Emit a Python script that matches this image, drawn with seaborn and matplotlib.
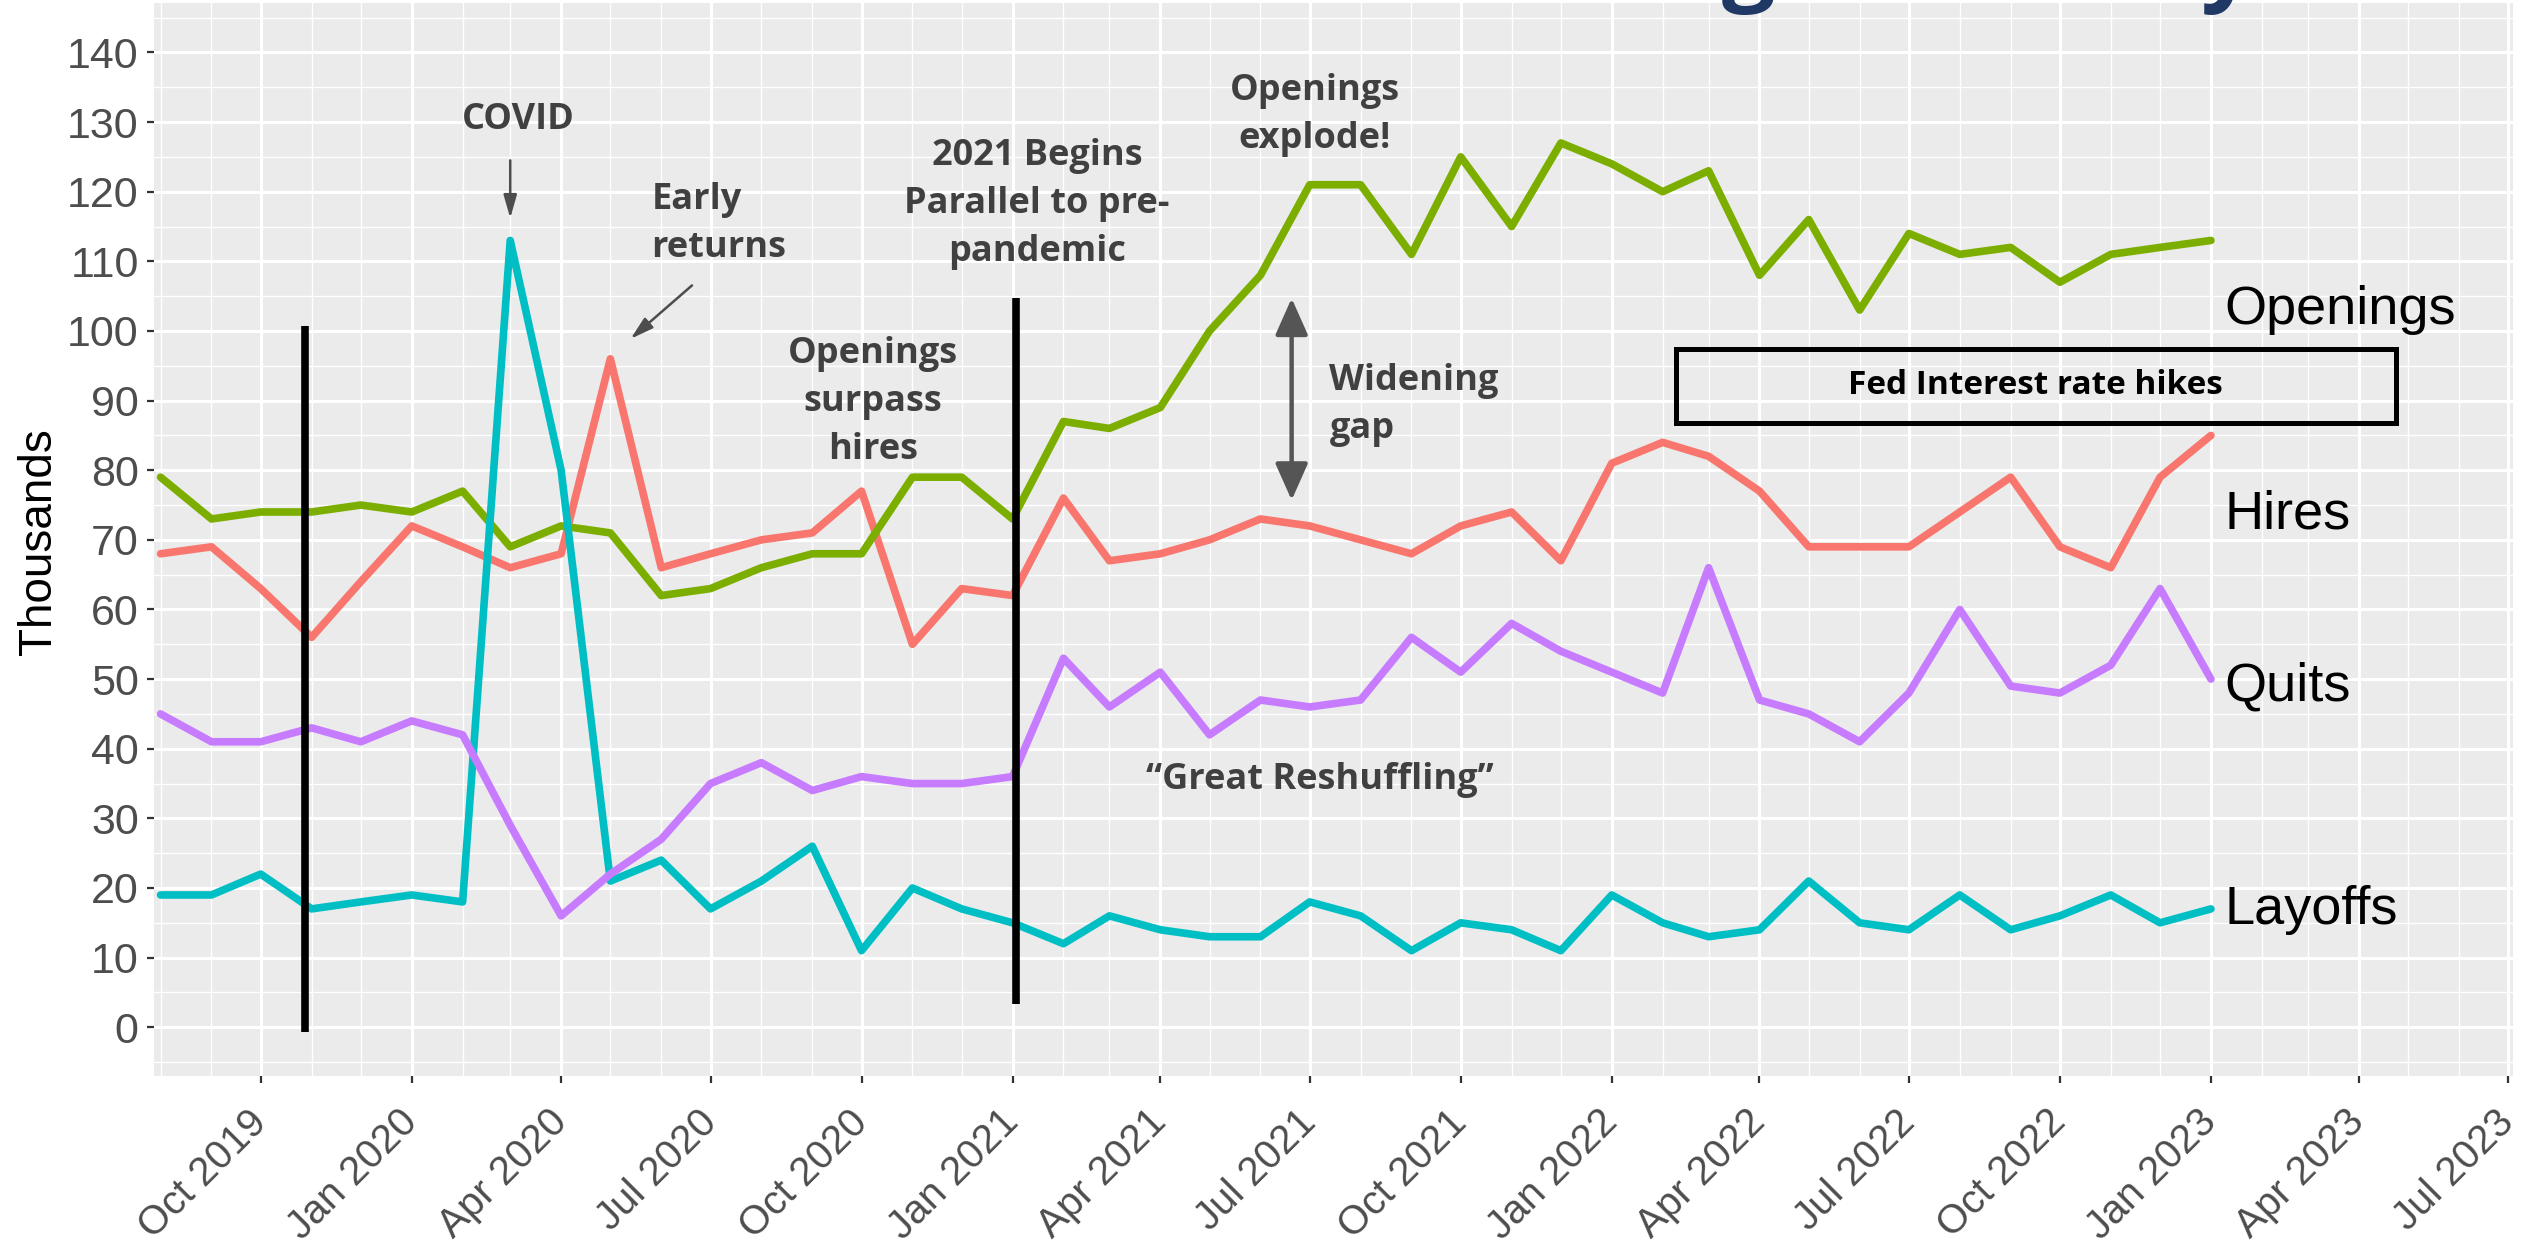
import matplotlib
matplotlib.use("Agg")
import matplotlib.pyplot as plt
import matplotlib.dates as mdates
from matplotlib.ticker import MultipleLocator
from matplotlib.patches import Rectangle
import seaborn as sns, pandas as pd, numpy as np

# monthly JOLTS-style series, thousands
months = pd.date_range("2019-08-01", periods=42, freq="MS")
hires = [68, 69, 63, 56, 64,
         72, 69, 66, 68, 96, 66, 68, 70, 71, 77, 55, 63,
         62, 76, 67, 68, 70, 73, 72, 70, 68, 72, 74, 67,
         81, 84, 82, 77, 69, 69, 69, 74, 79, 69, 66, 79,
         85]
openings = [79, 73, 74, 74, 75,
            74, 77, 69, 72, 71, 62, 63, 66, 68, 68, 79, 79,
            73, 87, 86, 89, 100, 108, 121, 121, 111, 125, 115, 127,
            124, 120, 123, 108, 116, 103, 114, 111, 112, 107, 111, 112,
            113]
layoffs = [19, 19, 22, 17, 18,
           19, 18, 113, 80, 21, 24, 17, 21, 26, 11, 20, 17,
           15, 12, 16, 14, 13, 13, 18, 16, 11, 15, 14, 11,
           19, 15, 13, 14, 21, 15, 14, 19, 14, 16, 19, 15,
           17]
quits = [45, 41, 41, 43, 41,
         44, 42, 29, 16, 22, 27, 35, 38, 34, 36, 35, 35,
         36, 53, 46, 51, 42, 47, 46, 47, 56, 51, 58, 54,
         51, 48, 66, 47, 45, 41, 48, 60, 49, 48, 52, 63,
         50]
series_names = ["Hires", "Openings", "Layoffs", "Quits"]
series_colors = ["#F8766D", "#7CAE00", "#00BFC4", "#C77CFF"]

df = pd.DataFrame({
    "date": np.tile(months, 4),
    "series": np.repeat(series_names, len(months)),
    "value": hires + openings + layoffs + quits,
})

sns.set_theme(style="darkgrid", rc={
    "axes.facecolor": "#EBEBEB",
    "grid.color": "white",
    "axes.edgecolor": "none",
})
plt.rcParams["font.family"] = ["Liberation Sans", "DejaVu Sans"]

fig = plt.figure(figsize=(25.32, 12.43), dpi=100)
ax = fig.add_axes([154 / 2532, 1 - 1076 / 1243, 2359 / 2532, 1073 / 1243])

sns.lineplot(data=df, x="date", y="value", hue="series",
             palette=dict(zip(series_names, series_colors)),
             linewidth=5.5, legend=False, ax=ax)

ax.set_xlim(pd.Timestamp("2019-07-28"), pd.Timestamp("2023-07-04"))
ax.set_ylim(-7, 147.1)
ax.yaxis.set_major_locator(MultipleLocator(10))
ax.yaxis.set_minor_locator(MultipleLocator(5))
ax.xaxis.set_major_locator(mdates.MonthLocator(bymonth=[1, 4, 7, 10]))
ax.xaxis.set_minor_locator(mdates.MonthLocator())
ax.xaxis.set_major_formatter(mdates.DateFormatter("%b %Y"))
ax.grid(which="major", color="white", linewidth=2.2)
ax.grid(which="minor", color="white", linewidth=1.0)
ax.tick_params(which="major", length=5, width=1.6, color="#333333",
               labelsize=31, labelcolor="#4D4D4D", pad=6, bottom=True, left=True)
ax.tick_params(axis="x", which="major", labelsize=29, pad=24)
ax.tick_params(which="minor", length=0)
for lab in ax.get_xticklabels():
    lab.set_rotation(45)
    lab.set_ha("right")
    lab.set_va("center")
    lab.set_rotation_mode("anchor")
ax.set_xlabel("")
ax.set_ylabel("Thousands", fontsize=33, color="black")
ax.yaxis.set_label_coords(-0.0395, 0.498)

# vertical markers
ax.vlines(pd.Timestamp("2019-10-28"), -0.7, 100.7, color="black", linewidth=5.5)
ax.vlines(pd.Timestamp("2021-01-03"), 3.3, 104.7, color="black", linewidth=5.5)

# annotations
note = dict(fontsize=26, fontweight="bold", color="#404040",
            family=["Open Sans", "DejaVu Sans"], linespacing=1.45)
ax.text(pd.Timestamp("2020-03-06"), 130.3, "COVID", ha="center", va="center", **note)
ax.text(pd.Timestamp("2020-05-26"), 115.4, "Early\nreturns", ha="left", va="center", **note)
ax.text(pd.Timestamp("2021-01-16"), 118.2, "2021 Begins\nParallel to pre-\npandemic",
        ha="center", va="center", multialignment="center", **note)
ax.text(pd.Timestamp("2020-10-08"), 89.8, "Openings\nsurpass\nhires",
        ha="center", va="center", multialignment="center", **note)
ax.text(pd.Timestamp("2021-07-04"), 131, "Openings\nexplode!",
        ha="center", va="center", multialignment="center", **note)
ax.text(pd.Timestamp("2021-07-13"), 89.4, "Widening\ngap", ha="left", va="center", **note)
ax.text(pd.Timestamp("2021-07-07"), 35.5, "\u201cGreat Reshuffling\u201d",
        ha="center", va="center", **note)

ax.annotate("", xy=(pd.Timestamp("2020-03-01"), 115.8), xytext=(pd.Timestamp("2020-03-01"), 124.9),
            arrowprops=dict(arrowstyle="-|>,head_length=0.7,head_width=0.2",
                            color="#4D4D4D", lw=1.8, mutation_scale=20))
ax.annotate("", xy=(pd.Timestamp("2020-05-12"), 98.6), xytext=(pd.Timestamp("2020-06-21"), 106.8),
            arrowprops=dict(arrowstyle="-|>,head_length=0.7,head_width=0.2",
                            color="#4D4D4D", lw=1.8, mutation_scale=20))
ax.annotate("", xy=(pd.Timestamp("2021-06-20"), 75.7), xytext=(pd.Timestamp("2021-06-20"), 104.7),
            arrowprops=dict(arrowstyle="<|-|>,head_length=0.9,head_width=0.4",
                            color="#555555", lw=3.2, mutation_scale=25,
                            shrinkA=0, shrinkB=0))

x0 = mdates.date2num(pd.Timestamp("2022-02-09"))
x1 = mdates.date2num(pd.Timestamp("2023-04-24"))
ax.add_patch(Rectangle((x0, 86.8), x1 - x0, 10.6, fill=False,
                       edgecolor="black", linewidth=3.6, zorder=5))
ax.text(pd.Timestamp("2022-09-16"), 92.1, "Fed Interest rate hikes", ha="center", va="center",
        fontsize=24, fontweight="bold", color="black", family=["Open Sans", "DejaVu Sans"])

# direct series labels
lab_x = pd.Timestamp("2023-01-09")
for name, yb in zip(["Openings", "Hires", "Quits", "Layoffs"], [101, 71.7, 46.9, 14.8]):
    ax.text(lab_x, yb, name, ha="left", va="baseline", fontsize=39, color="black")

# clipped slide title above the chart
title_kw = dict(fontsize=68, fontweight="bold", color="#1F3864",
                family=["Open Sans", "DejaVu Sans"], va="baseline", ha="center")
fig.text(1748 / 2532, 1 + 7 / 1243, "g", **title_kw)
fig.text(2228 / 2532, 1 + 7 / 1243, "y", **title_kw)

fig.savefig("out.png", dpi=100)
